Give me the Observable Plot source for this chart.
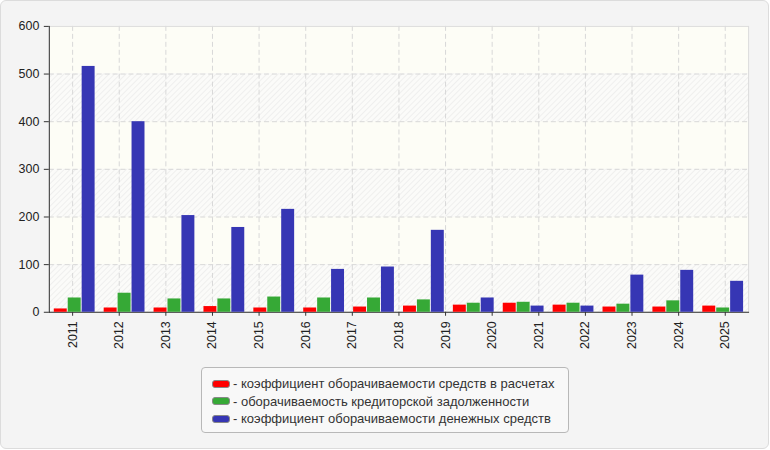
<!DOCTYPE html>
<html>
<head>
<meta charset="utf-8">
<script src="https://cdn.jsdelivr.net/npm/d3@7"></script>
<script src="https://cdn.jsdelivr.net/npm/@observablehq/plot@0.6"></script>
<style>
  html, body { margin: 0; padding: 0; background: #ffffff; }
  #frame { position: absolute; left: 0; top: 0; width: 767px; height: 447px;
    border: 1px solid #dcdcdc; border-radius: 6px; background: #f4f4f4; overflow: hidden;
    font-family: "Liberation Sans", Arial, sans-serif; }
  #base, #bars { position: absolute; left: 0; top: 0; }
  #bars svg { background: transparent !important; }
  #legend { position: absolute; left: 200px; top: 366px; width: 368px; height: 66px;
    border: 1px solid #b8b8b8; border-radius: 4px; background: #f8f8f8;
    box-sizing: border-box; padding-top: 7px; padding-left: 10px; }
  .item { height: 17.7px; line-height: 17.7px; font-size: 13px; color: #333; white-space: nowrap; }
  .sw { display: inline-block; width: 16px; height: 6px; border: 1px solid #888; border-radius: 3px;
    vertical-align: middle; margin-right: 3px; position: relative; top: -1px; }
</style>
</head>
<body>
<div id="frame">
  <div id="base"></div>
  <div id="bars"></div>
  <div id="legend"></div>
</div>
<script>
// Axis labels (15) — the original chart shows 15 year labels
const years = ["2011","2012","2013","2014","2015","2016","2017","2018","2019","2020","2021","2022","2023","2024","2025"];
// Bar groups (14) as drawn in the original
const periods = ["1","2","3","4","5","6","7","8","9","10","11","12","13","14"];
const seriesNames = [
  "коэффициент оборачиваемости средств в расчетах",
  "оборачиваемость кредиторской задолженности",
  "коэффициент оборачиваемости денежных средств"
];
const seriesColors = ["#ff0000", "#36a936", "#3636b4"];
const receivablesTurnover = [7, 9, 9, 12, 9, 9, 11, 13, 15, 19, 15, 11, 11, 13];
const payablesTurnover    = [30, 40, 28, 28, 32, 30, 30, 26, 19, 21, 19, 17, 24, 9];
const cashTurnover        = [516, 400, 203, 178, 216, 90, 95, 172, 30, 13, 13, 78, 88, 65];
const yTicks = [0, 100, 200, 300, 400, 500, 600];

const W = 770, H = 360;
const M = { marginLeft: 48, marginRight: 20, marginTop: 25, marginBottom: 48 };
const yScale = { domain: [0, 600], axis: null };

// background bands built from tick values
const bands = yTicks.slice(0, -1).map((v, i) => ({ lo: v, hi: yTicks[i + 1], hatched: i % 2 === 0 }));

const defs = () => {
  const svgNS = "http://www.w3.org/2000/svg";
  const d = document.createElementNS(svgNS, "defs");
  d.innerHTML = `<pattern id="hatch" width="4" height="4" patternUnits="userSpaceOnUse" patternTransform="rotate(45)">
      <rect width="4" height="4" fill="#fbfbf9"></rect>
      <line x1="0" y1="0" x2="0" y2="4" stroke="#ebebeb" stroke-width="1.5"></line>
    </pattern>`;
  return d;
};

const base = Plot.plot({
  width: W, height: H, ...M,
  style: { background: "transparent", fontFamily: "'Liberation Sans', Arial, sans-serif", fontSize: "12.5px", color: "#222" },
  x: { type: "band", domain: years, padding: 0, round: false, axis: null },
  y: { ...yScale },
  marks: [
    defs,
    Plot.rect(bands.filter(b => !b.hatched), { y1: "lo", y2: "hi", fill: "#fdfdf6" }),
    Plot.rect(bands.filter(b => b.hatched), { y1: "lo", y2: "hi", fill: "url(#hatch)" }),
    Plot.gridY(yTicks.slice(1, -1), { stroke: "#d8d8d8", strokeOpacity: 1, strokeDasharray: "5,3" }),
    Plot.gridX(years, { stroke: "#d8d8d8", strokeOpacity: 1, strokeDasharray: "5,3" }),
    Plot.frame({ stroke: "#dcdcdc" }),
    Plot.axisX({ tickRotate: -90, tickSize: 4, tickPadding: 5, stroke: "#333", fill: "#222", fontSize: 12.5 }),
    Plot.axisY({ ticks: yTicks, tickSize: 5, tickPadding: 5, stroke: "#333", fill: "#222", fontSize: 12.5 }),
    Plot.frame({ anchor: "left", stroke: "#333" }),
    Plot.frame({ anchor: "bottom", stroke: "#333" })
  ]
});
document.getElementById("base").appendChild(base);

const table = [];
periods.forEach((p, i) => {
  [receivablesTurnover, payablesTurnover, cashTurnover].forEach((arr, s) => {
    table.push({ period: p, series: seriesNames[s], value: arr[i] });
  });
});

const bars = Plot.plot({
  width: W, height: H, ...M,
  style: { background: "transparent" },
  fx: { domain: periods, paddingInner: 0.182, paddingOuter: 0.1, round: false, axis: null, label: null },
  x: { domain: seriesNames, paddingInner: 0.07, paddingOuter: 0, round: false, axis: null },
  y: { ...yScale },
  color: { domain: seriesNames, range: seriesColors },
  marks: [
    Plot.rectY(table, { fx: "period", x: "series", y: "value", fill: "series" })
  ]
});
document.getElementById("bars").appendChild(bars);

const legend = document.getElementById("legend");
seriesNames.forEach((name, i) => {
  const row = document.createElement("div");
  row.className = "item";
  const sw = document.createElement("span");
  sw.className = "sw";
  sw.style.background = seriesColors[i];
  row.appendChild(sw);
  row.appendChild(document.createTextNode("- " + name));
  legend.appendChild(row);
});
</script>
</body>
</html>
